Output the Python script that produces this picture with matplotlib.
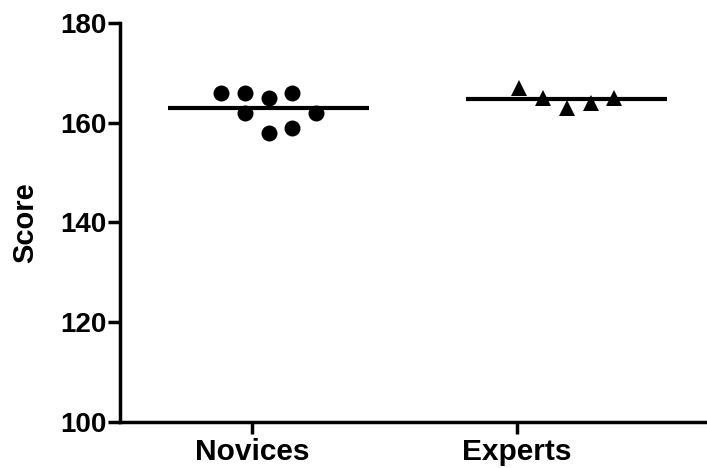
import numpy as np
import matplotlib
matplotlib.use("Agg")
import matplotlib.pyplot as plt

plt.rcParams['font.family'] = ['Liberation Sans', 'DejaVu Sans']

categories = ["Novices", "Experts"]
novices_scores = [166, 166, 165, 166, 162, 162, 158, 159]
novices_offsets = [-0.118, -0.029, 0.062, 0.150, -0.029, 0.242, 0.062, 0.150]
experts_scores = [167, 165, 163, 164, 165]
experts_offsets = [0.008, 0.097, 0.188, 0.278, 0.367]
y_ticks = [100, 120, 140, 160, 180]

fig = plt.figure(figsize=(7.07, 4.68), dpi=100)
ax = fig.add_axes([0.1697, 0.0983, 1.0 - 0.1697, 0.9515 - 0.0983])

groups = [
    (0, novices_scores, novices_offsets, 'o', 11.5),
    (1, experts_scores, experts_offsets, '^', 12),
]
for pos, scores, offs, mk, ms in groups:
    xs = pos + np.array(offs)
    ax.plot(xs, scores, linestyle='none', marker=mk, markersize=ms,
            color='black', markeredgewidth=0, clip_on=False, zorder=3)
    center = pos + (min(offs) + max(offs)) / 2
    m = np.mean(scores)
    ax.plot([center - 0.38, center + 0.38], [m, m], color='black', lw=3,
            solid_capstyle='butt', zorder=2)

ax.set_xlim(-0.5, 1.717)
ax.set_ylim(100, 180)
ax.set_xticks([0, 1])
ax.set_xticklabels(categories, fontsize=21.5, fontweight='bold')
ax.set_yticks(y_ticks)
ax.set_yticklabels([str(v) for v in y_ticks], fontsize=20, fontweight='bold')
ax.set_ylabel("Score", fontsize=21, fontweight='bold', labelpad=15)

for s in ['top', 'right']:
    ax.spines[s].set_visible(False)
for s in ['left', 'bottom']:
    ax.spines[s].set_linewidth(2.5)
ax.tick_params(axis='both', length=8.6, width=2.5, direction='out', color='black')
ax.tick_params(axis='x', pad=3)
ax.tick_params(axis='y', pad=1)

fig.savefig("out.png", dpi=100)
